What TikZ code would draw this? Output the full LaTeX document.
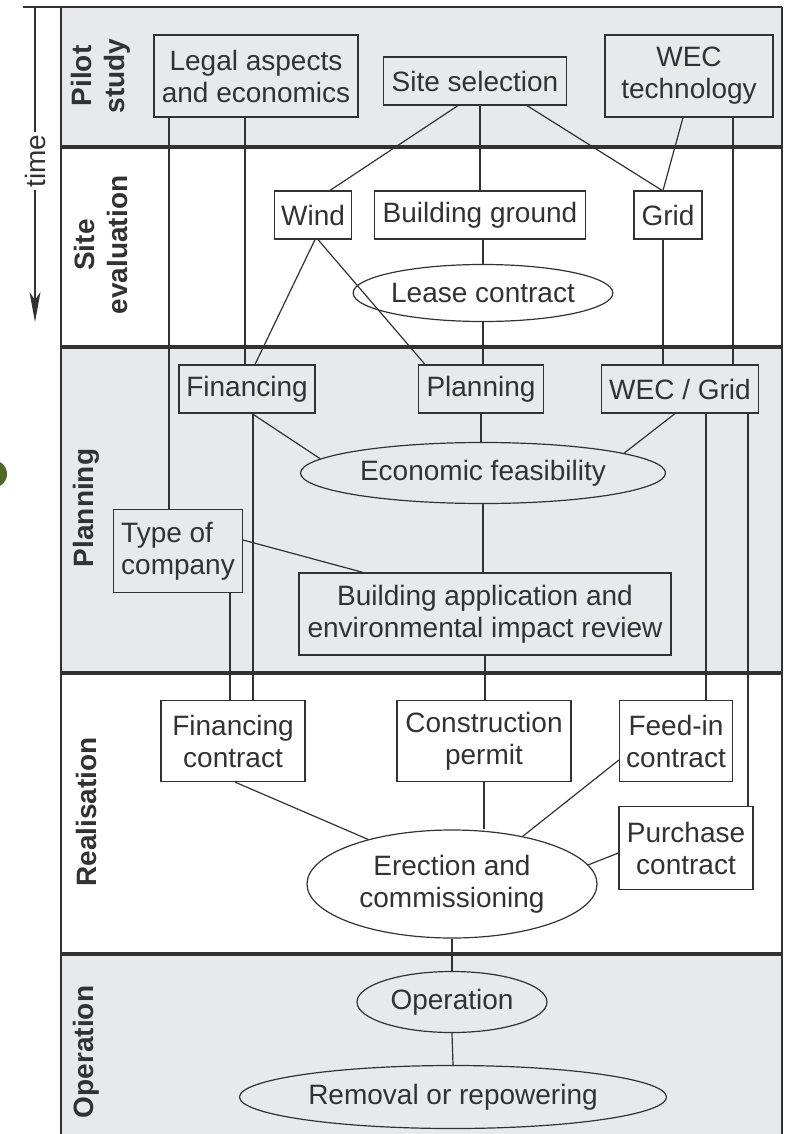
\documentclass[tikz,border=0pt]{standalone}
\usepackage{fontspec}
\setmainfont{Liberation Sans}
\usepackage{tikz}
\usetikzlibrary{shapes.geometric,arrows.meta}

\definecolor{bandgray}{RGB}{232,233,235}
\definecolor{ink}{RGB}{50,50,50}
\definecolor{blobgreen}{RGB}{78,104,42}

\tikzset{
  task/.style={draw=ink, rectangle, inner sep=0pt, align=center, text=ink,
    font=\fontsize{28}{32}\selectfont, line width=1.2pt},
  oval/.style={task, ellipse},
  phase/.style={rotate=90, align=center, text=ink, inner sep=0pt,
    font=\fontsize{28}{33}\selectfont\bfseries},
  link/.style={draw=ink, line width=1.2pt},
  sep/.style={draw=ink, line width=3.5pt}
}

\begin{document}
\begin{tikzpicture}[x=1pt,y=-1pt]
  \useasboundingbox (0,0) rectangle (785,1134);
  % bands
  \fill[bandgray] (61,7) rectangle (782,147);
  \fill[bandgray] (61,347) rectangle (782,673);
  \fill[bandgray] (61,954) rectangle (782,1134);
  \fill[blobgreen] (-7,474) circle (14pt);
  \draw[ink, line width=2pt] (23,7) -- (782,7);
  \draw[ink, line width=2pt] (61,7) -- (61,1134) (782,7) -- (782,1134);
  \foreach \yy in {147,347,673,954}
    \draw[sep] (61,\yy) -- (782,\yy);

  % time axis
  \coordinate (t0) at (35,7);
  \coordinate (t1) at (35,322);
  \draw[link, -{Stealth[length=30pt,width=11pt,inset=8pt]}] (t0) -- (t1);
  \node[fill=white, rotate=90, text=ink, inner xsep=3pt, inner ysep=0pt,
    font=\fontsize{28}{32}\selectfont] (time) at (35,161) {time};

  % phases
  \node[phase] (p1) at (101,76) {Pilot\\study};
  \node[phase] (p2) at (101,245) {Site\\evaluation};
  \node[phase] (p3) at (86,508) {Planning};
  \node[phase] (p4) at (86,812) {Realisation};
  \node[phase] (p5) at (86,1052) {Operation};

  % pilot study
  \node[task, minimum width=204pt, minimum height=82pt] (legal) at (256,76) {Legal aspects\\and economics};
  \node[task, minimum width=183pt, minimum height=48pt] (site) at (475,81) {Site selection};
  \node[task, minimum width=168pt, minimum height=82pt] (wectech) at (689,76) {WEC\\technology};
  % site evaluation
  \node[task, minimum width=77pt, minimum height=48pt] (wind) at (313,215) {Wind};
  \node[task, minimum width=211pt, minimum height=48pt] (ground) at (480,215) {Building ground};
  \node[task, minimum width=68pt, minimum height=48pt] (grid) at (668,215) {Grid};
  \node[oval, minimum width=220pt, minimum height=57pt] (lease) at (483,293) {Lease contract};
  % planning
  \node[task, minimum width=136pt, minimum height=48pt] (fin) at (247,389) {Financing};
  \node[task, minimum width=125pt, minimum height=48pt] (plan) at (481,389) {Planning};
  \node[task, minimum width=157pt, minimum height=48pt] (wecgrid) at (680,389) {WEC / Grid};
  \node[oval, minimum width=365pt, minimum height=61pt] (econ) at (483,473) {Economic feasibility};
  \node[task, minimum width=129pt, minimum height=83pt, align=left] (typ) at (178,551) {Type of\\company};
  \node[task, minimum width=372pt, minimum height=82pt] (bapp) at (485,614) {Building application and\\environmental impact review};
  % realisation
  \node[task, minimum width=144pt, minimum height=81pt] (fincon) at (233,741) {Financing\\contract};
  \node[task, minimum width=174pt, minimum height=81pt] (permit) at (484,741) {Construction\\permit};
  \node[task, minimum width=113pt, minimum height=81pt] (feedin) at (676,741) {Feed-in\\contract};
  \node[task, minimum width=134pt, minimum height=83pt] (purch) at (686,848) {Purchase\\contract};
  \node[oval, minimum width=290pt, minimum height=108pt] (erect) at (452,884) {Erection and\\commissioning};
  % operation
  \node[oval, minimum width=190pt, minimum height=61pt] (oper) at (452,1002) {Operation};
  \node[oval, minimum width=427pt, minimum height=63pt] (remov) at (453,1097) {Removal or repowering};

  \path[link]
  (legal.south -| 169,0) edge (typ.north -| 169,0)
  (legal.south -| 245,0) edge (fin.north -| 245,0)
  (site.south -| 458,0) edge (wind.north -| 330,0)
  (site.south -| ground.north) edge (ground.north)
  (site.south -| 527,0) edge (grid.north -| 662,0)
  (wectech.south -| 683,0) edge (grid.north -| 663,0)
  (wectech.south -| 733,0) edge (wecgrid.north -| 733,0)
  (wind.south -| 315,0) edge (fin.north -| 255,0)
  (wind.south -| 318,0) edge (plan.north -| 425,0)
  (ground.south -| lease.north) edge (lease.north)
  (lease.south) edge (lease.south |- plan.north)
  (grid.south -| 663,0) edge (wecgrid.north -| 663,0)
  ;
  \path[link]
  (fin.south -| 252,0) edge (econ.175)
  (fin.south -| 253,0) edge (fincon.north -| 253,0)
  (plan.south) edge (plan.south |- econ.north)
  (wecgrid.south -| 675,0) edge (econ.8)
  (wecgrid.south -| 706,0) edge (feedin.north -| 706,0)
  (wecgrid.south -| 748,0) edge (purch.north -| 748,0)
  (econ.south) edge (econ.south |- bapp.north)
  (typ.east |- 0,540) edge (bapp.north -| 363,0)
  (typ.south -| 230,0) edge (fincon.north -| 230,0)
  (bapp.south) edge (bapp.south |- permit.north)
  ;
  \path[link]
  (fincon.south -| 235,0) edge (erect.152)
  (permit.south) edge (permit.south |- erect.north)
  (feedin.west |- 0,760) edge (erect.34)
  (purch.west |- 0,853) edge (erect.8)
  (erect.south) edge (oper.north)
  (oper.south) edge (remov.north)
  ;
\end{tikzpicture}
\end{document}
